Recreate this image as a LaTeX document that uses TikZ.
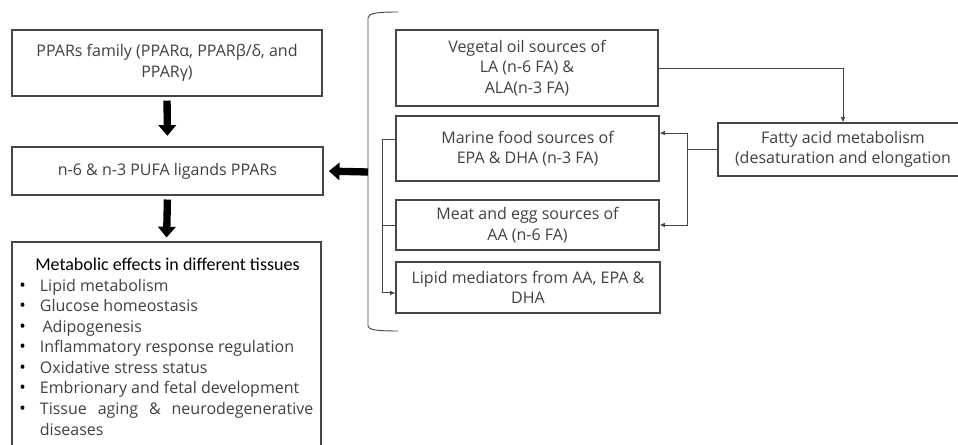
\documentclass[tikz,border=0pt]{standalone}
\usepackage{fontspec}
\setmainfont{Open Sans}
\newfontfamily\headfont{Carlito}
\usetikzlibrary{arrows.meta,positioning}
\definecolor{textgray}{RGB}{64,64,64}
\definecolor{boxline}{RGB}{70,70,70}

\begin{document}
\begin{tikzpicture}[x=0.75pt,y=-0.75pt,
  box/.style={draw=boxline,line width=0.8pt,text=textgray,align=center,inner sep=0pt,
    font=\fontsize{12}{15.4}\selectfont},
  sz/.style 2 args={minimum width=#1*0.75pt,minimum height=#2*0.75pt},
  fatarrow/.style={-{Triangle[length=8pt,width=13pt]},line width=5.5pt,black},
  thinline/.style={draw=boxline,line width=0.7pt},
  thinarrow/.style={thinline,-{Latex[length=4pt,width=3.5pt]}}]
  \clip (0,0) rectangle (958,445);
  \useasboundingbox (0,0) rectangle (958,445);
  \newcommand{\bul}{\makebox[15.5pt][l]{\color{black}\fontsize{13}{15}\selectfont •}}

  % left column
  \node[box,sz={310}{66}] (family) at (167,63) {PPARs family (PPARα, PPARβ/δ, and\\PPARγ)};
  \node[box,sz={311}{48}] (ligands) at (167.5,171) {n-6 \& n-3 PUFA ligands PPARs};
  \node[box,sz={309}{215}] (effects) at (166.5,349.5) {};
  \node[anchor=north west,align=left,inner sep=0pt,text=textgray,font=\fontsize{12}{15.4}\selectfont] (list) at (19,258)
    {\hspace*{12pt}{\headfont\fontsize{13.5}{15.4}\selectfont\color{black}Metabolic effects in different tissues}\\
     \bul Lipid metabolism\\
     \bul Glucose homeostasis\\
     \bul\,Adipogenesis\\
     \bul Inflammatory response regulation\\
     \bul Oxidative stress status\\
     \bul Embrionary and fetal development\\
     \bul\parbox[t]{205pt}{\hyphenpenalty=10000\exhyphenpenalty=10000
       Tissue aging \& neurodegenerative diseases}};

  \draw[fatarrow,shorten <=3pt,shorten >=8pt] (family.south) -- (ligands.north);
  \draw[fatarrow,shorten <=3pt,shorten >=3pt] (ligands.south) -- (effects.north);

  % sources
  \node[box,sz={262}{76}] (vegetal) at (527,68) {Vegetal oil sources of\\LA (n-6 FA) \&\\ALA(n-3 FA)};
  \node[box,sz={263}{65}] (marine) at (527.5,148.5) {Marine food sources of\\EPA \& DHA (n-3 FA)};
  \node[box,sz={263}{50}] (meat) at (527.5,225) {Meat and egg sources of\\AA (n-6 FA)};
  \node[box,sz={264}{51}] (lipid) at (528,287.5) {Lipid mediators from AA, EPA \&\\DHA};
  \node[box,sz={250}{53}] (fatty) at (843,149.5) {Fatty acid metabolism\\(desaturation and elongation};

  % bracket
  \draw[thinline] (398,12) .. controls (378,12) and (368,13) .. (368,18) -- (368,326)
    .. controls (368,330) and (378,331) .. (398,331);
  \coordinate (brace) at (368,172);
  \draw[fatarrow,shorten >=4pt] (brace) -- (ligands.east);

  % connectors
  \draw[thinarrow] (vegetal.east) -| (fatty.north);
  \draw[thinline] (fatty.west) -- ++(-30,0) coordinate (split);
  \draw[thinarrow] (split) |- ([yshift=11.6pt]marine.east);
  \draw[thinarrow] (split) |- (meat.east);
  \draw[thinarrow] ([yshift=6.4pt]marine.west) -- ++(-13,0) |- ([yshift=-4.1pt]lipid.west);
  \draw[thinline] (meat.west) -- ++(-13,0);
\end{tikzpicture}
\end{document}
